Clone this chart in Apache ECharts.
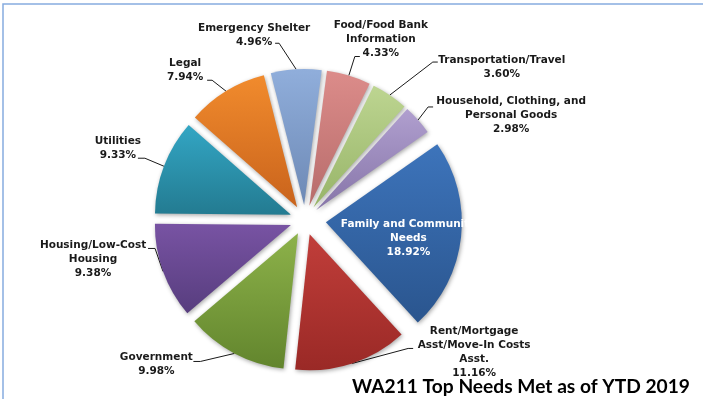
<!DOCTYPE html>
<html>
<head>
<meta charset="utf-8">
<script src="https://cdn.jsdelivr.net/npm/echarts@6/dist/echarts.min.js"></script>
<style>
  html, body { margin: 0; padding: 0; background: #ffffff; }
  #chart { width: 703px; height: 399px; }
</style>
</head>
<body>
<div id="chart"></div>
<script>
// Needs met, share of all calls (%), clockwise from the largest slice
const categories = [
  'Family and Community Needs',
  'Rent/Mortgage Asst/Move-In Costs Asst.',
  'Government',
  'Housing/Low-Cost Housing',
  'Utilities',
  'Legal',
  'Emergency Shelter',
  'Food/Food Bank Information',
  'Transportation/Travel',
  'Household, Clothing, and Personal Goods'
];
const shares = [18.92, 11.16, 9.98, 9.38, 9.33, 7.94, 4.96, 4.33, 3.60, 2.98];
// How each category name wraps in its label
const labelLines = [
  ['Family and Community', 'Needs'],
  ['Rent/Mortgage', 'Asst/Move-In Costs', 'Asst.'],
  ['Government'],
  ['Housing/Low-Cost', 'Housing'],
  ['Utilities'],
  ['Legal'],
  ['Emergency Shelter'],
  ['Food/Food Bank', 'Information'],
  ['Transportation/Travel'],
  ['Household, Clothing, and', 'Personal Goods']
];
const titleText = 'WA211 Top Needs Met as of YTD 2019';

// ---- styling / layout ----
const sliceColors = [
  ['#3d74bb', '#2a558e'],
  ['#c13e3a', '#9a2926'],
  ['#8db24a', '#62852d'],
  ['#7853a3', '#573d7e'],
  ['#33a6c4', '#237b91'],
  ['#f18b2d', '#c9631c'],
  ['#90aedb', '#6d89b5'],
  ['#dc8c8a', '#b76c6b'],
  ['#bdd591', '#97b468'],
  ['#b09fcf', '#8675a8']
];
const CX = 305, CY = 220, R = 136;
const explodeBy = [21, 15, 15, 15, 15, 15, 15, 15, 15, 15];
// Leader shape per label: v = slice edge -> elbow, tick = short horizontal run,
// t = end of tick -> centre of the text block
const leaders = [
  null,
  { v: [56, -15], tick: 5, t: [61, 4] },
  { v: [-34, 8], tick: -7, t: [-37, 3] },
  { v: [-8, -23], tick: -7, t: [-55, 11] },
  { v: [-19, -8], tick: -7, t: [-20, -10] },
  { v: [-14, -11], tick: -5, t: [-22, -10] },
  { v: [-17, -26], tick: -4, t: [-21, -8] },
  { v: [6, -19], tick: 5, t: [21, -17] },
  { v: [43, -33], tick: 5, t: [64, 5] },
  { v: [10, -13], tick: 5, t: [78, 8] }
];
const START_ANGLE = 35;   // echarts degrees: 90 = 12 o'clock

const LABEL_FONT = 'DejaVu Sans';
const total = shares.reduce((a, b) => a + b, 0);

// mid-angle of every slice, clockwise from 12 o'clock, in radians
const midAngles = [];
(function () {
  let acc = 90 - START_ANGLE;
  shares.forEach(v => {
    const span = v / total * 360;
    midAngles.push((acc + span / 2) * Math.PI / 180);
    acc += span;
  });
})();

function labelText(i) {
  return labelLines[i].concat([shares[i].toFixed(2) + '%'])
    .map(s => '{c|' + s + '}').join('\n');
}

function makeSeries(i) {
  const a = midAngles[i];
  const off = explodeBy[i];
  const inside = i === 0;
  return {
    type: 'pie',
    center: [CX + off * Math.sin(a), CY - off * Math.cos(a)],
    radius: R,
    startAngle: START_ANGLE,
    clockwise: true,
    silent: true,
    avoidLabelOverlap: false,
    emphasis: { disabled: true },
    itemStyle: { borderWidth: 0 },
    label: {
      position: inside ? 'inside' : 'outside',
      formatter: () => labelText(i),
      rich: {
        c: {
          align: 'center',
          fontFamily: LABEL_FONT,
          fontSize: 10.5,
          fontWeight: 'bold',
          lineHeight: 14,
          color: inside ? '#ffffff' : '#1a1a1a'
        }
      }
    },
    labelLine: {
      lineStyle: { color: '#1a1a1a', width: 1 }
    },
    labelLayout: function (p) {
      if (p.dataIndex !== i) return {};
      if (inside) return { dx: 12, dy: 8 };
      const g = leaders[i];
      if (!g || !p.labelLinePoints) return {};
      const x1 = p.labelLinePoints[0][0], y1 = p.labelLinePoints[0][1];
      const sx = x1 + g.v[0], sy = y1 + g.v[1];
      const ex = sx + g.tick;
      return {
        x: ex + g.t[0],
        y: sy + g.t[1],
        align: 'center',
        verticalAlign: 'middle',
        labelLinePoints: [[x1, y1], [sx, sy], [ex, sy]]
      };
    },
    data: categories.map((name, j) => {
      const on = j === i;
      return {
        name: name,
        value: shares[j],
        itemStyle: on ? {
          color: new echarts.graphic.LinearGradient(0, 0, 0, 1, [
            { offset: 0, color: sliceColors[j][0] },
            { offset: 1, color: sliceColors[j][1] }
          ]),
          shadowBlur: 4,
          shadowOffsetX: 1,
          shadowOffsetY: 1.5,
          shadowColor: 'rgba(0,0,0,0.35)'
        } : { color: 'rgba(0,0,0,0)' },
        label: { show: on },
        labelLine: { show: on && !inside }
      };
    })
  };
}

const chart = echarts.init(document.getElementById('chart'), null, { renderer: 'canvas' });
chart.setOption({
  animation: false,
  backgroundColor: '#ffffff',
  title: {
    text: titleText,
    right: 13,
    top: 377,
    padding: 0,
    textStyle: {
      fontFamily: 'Lato',
      fontWeight: 'bold',
      fontSize: 19.2,
      color: '#000000'
    }
  },
  graphic: [{
    type: 'rect',
    silent: true,
    shape: { x: 3, y: 4, width: 760, height: 460 },
    style: { fill: 'none', stroke: '#86ace0', lineWidth: 1.5 }
  }],
  series: categories.map((_, i) => makeSeries(i))
});
</script>
</body>
</html>
